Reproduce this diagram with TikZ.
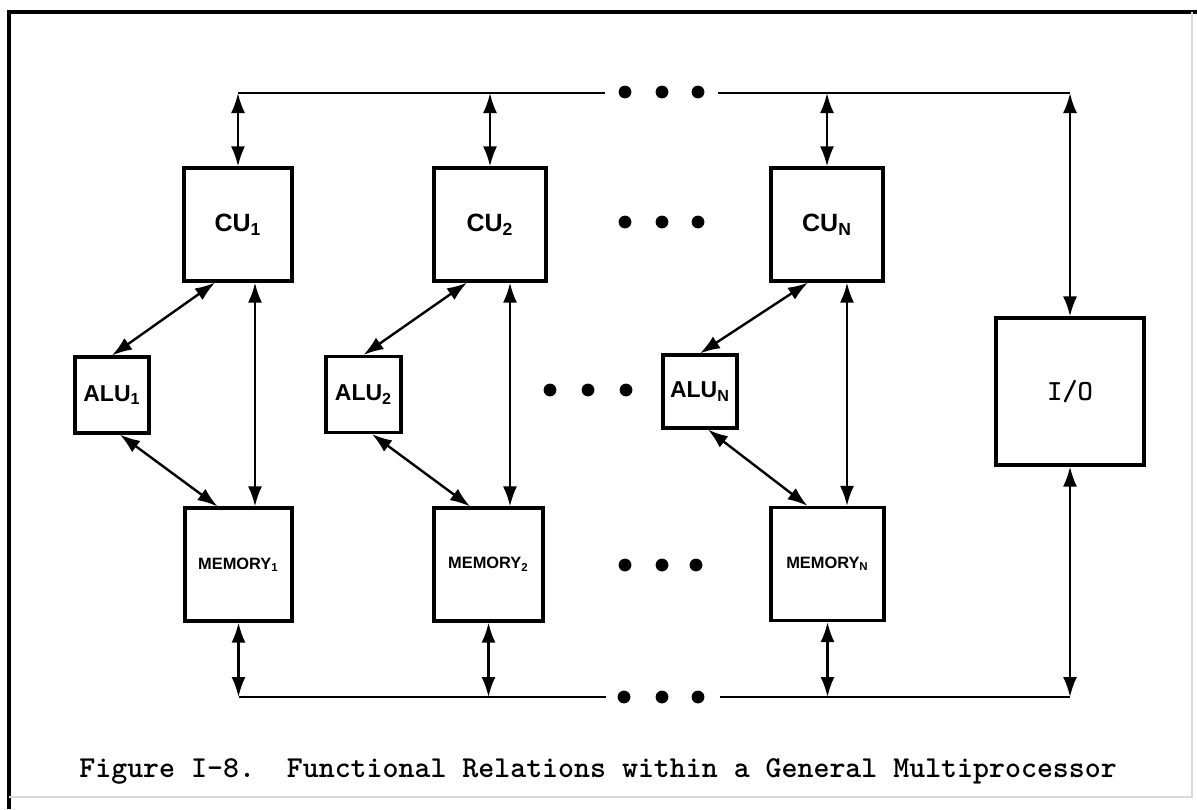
\documentclass[tikz,border=0pt]{standalone}
\usepackage{fontspec}
\setsansfont{Liberation Sans}
\usetikzlibrary{arrows.meta,calc}

\begin{document}
\begin{tikzpicture}[x=0.5pt,y=-0.5pt,
  unit/.style={draw,line width=1.6pt,inner sep=0pt,
    font=\sffamily\bfseries\fontsize{12.5}{14}\selectfont},
  alubox/.style={unit,font=\sffamily\bfseries\fontsize{11.5}{13}\selectfont},
  membox/.style={unit,font=\sffamily\bfseries\fontsize{8.2}{10}\selectfont},
  iobox/.style={draw,line width=1.6pt,inner sep=0pt,
    font=\ttfamily\bfseries\fontsize{14.6}{17}\selectfont},
  link/.style={line width=1.3pt},
  dlink/.style={line width=1.2pt,{Latex[length=10pt,width=7pt]}-{Latex[length=10pt,width=7pt]}},
  dot/.style={fill=black}
]
\useasboundingbox (0,0) rectangle (1197,809);

% page frame
\draw[line width=2pt] (9,809) -- (9,12) -- (1197,12);
\draw[gray!30,line width=0.6pt] (1192,12) -- (1192,797) -- (9,797);

% control units
\node[unit,minimum width=54pt,minimum height=56.5pt] (cu1) at (238,224.5) {CU\textsubscript{1}};
\node[unit,minimum width=56pt,minimum height=56.5pt] (cu2) at (490,224.5) {CU\textsubscript{2}};
\node[unit,minimum width=56pt,minimum height=56.5pt] (cuN) at (827,224.5) {CU\textsubscript{N}};

% arithmetic units
\node[alubox,minimum width=37pt,minimum height=38pt] (alu1) at (112,395) {ALU\textsubscript{1}};
\node[alubox,minimum width=37.5pt,minimum height=38pt] (alu2) at (363.5,394.5) {ALU\textsubscript{2}};
\node[alubox,minimum width=37pt,minimum height=36.5pt] (aluN) at (700,391.5) {ALU\textsubscript{N}};

% memories
\node[membox,minimum width=53.5pt,minimum height=56.5pt] (mem1) at (238.5,564.5) {MEMORY\textsubscript{1}};
\node[membox,minimum width=54.5pt,minimum height=56.5pt] (mem2) at (488.5,564.5) {MEMORY\textsubscript{2}};
\node[membox,minimum width=56.5pt,minimum height=56.5pt] (memN) at (827.5,564) {MEMORY\textsubscript{N}};

% input/output
\node[iobox,minimum width=74pt,minimum height=73.5pt] (io) at (1070,391.5) {I/O};

% bus levels
\coordinate (topy) at (0,93);
\coordinate (boty) at (0,697);

% top bus
\coordinate (tb1) at (cu1.north |- topy);
\coordinate (tb2) at (cu2.north |- topy);
\coordinate (tb3) at (cuN.north |- topy);
\coordinate (tb4) at (io.north |- topy);
\coordinate (tgapL) at (605,93);
\coordinate (tgapR) at (718,93);
\draw[link] (tb1) -- (tgapL);
\draw[link] (tgapR) -- (tb4);
\draw[dlink] (tb1) -- (cu1.north);
\draw[dlink] (tb2) -- (cu2.north);
\draw[dlink] (tb3) -- (cuN.north);
\draw[dlink] (tb4) -- (io.north);

% bottom bus
\coordinate (bb1) at (mem1.south |- boty);
\coordinate (bb2) at (mem2.south |- boty);
\coordinate (bb3) at (memN.south |- boty);
\coordinate (bb4) at (io.south |- boty);
\coordinate (bgapL) at (606,697);
\coordinate (bgapR) at (720,697);
\draw[link] (bb1) -- (bgapL);
\draw[link] (bgapR) -- (bb4);
\draw[dlink] (mem1.south) -- (bb1);
\draw[dlink] (mem2.south) -- (bb2);
\draw[dlink] (memN.south) -- (bb3);
\draw[dlink] (io.south) -- (bb4);

% control unit to memory
\path ($(cu1.south)+(17,0)$) coordinate (v1);
\path ($(cu2.south)+(20,0)$) coordinate (v2);
\path ($(cuN.south)+(20,0)$) coordinate (v3);
\draw[dlink] (v1) -- (v1 |- mem1.north);
\draw[dlink] (v2) -- (v2 |- mem2.north);
\draw[dlink] (v3) -- (v3 |- memN.north);

% arithmetic unit to control unit and memory
\draw[dlink] (alu1.north) -- ($(cu1.south)+(-23,0)$);
\draw[dlink] ($(alu1.south)+(8,0)$) -- ($(mem1.north)+(-21,0)$);
\draw[dlink] (alu2.north) -- ($(cu2.south)+(-23,0)$);
\draw[dlink] ($(alu2.south)+(8.5,0)$) -- ($(mem2.north)+(-18.5,0)$);
\draw[dlink] (aluN.north) -- ($(cuN.south)+(-19,0)$);
\draw[dlink] ($(aluN.south)+(8,0)$) -- ($(memN.north)+(-20,0)$);

% ellipses
\foreach \x in {625,662,698} \fill[dot] (\x,92) circle[radius=3.2pt];
\foreach \x in {625,662,698} \fill[dot] (\x,222) circle[radius=3.2pt];
\foreach \x in {550,588,626} \fill[dot] (\x,390) circle[radius=3.2pt];
\foreach \x in {625,662,696} \fill[dot] (\x,565) circle[radius=3.2pt];
\foreach \x in {624,662,698} \fill[dot] (\x,697) circle[radius=3.2pt];

% caption
\node[anchor=base west,inner sep=0pt,font=\ttfamily\bfseries\fontsize{15.2}{18}\selectfont] (cap) at (79,777)
  {Figure I-8.\ \ Functional Relations within a General Multiprocessor};
\end{tikzpicture}
\end{document}
